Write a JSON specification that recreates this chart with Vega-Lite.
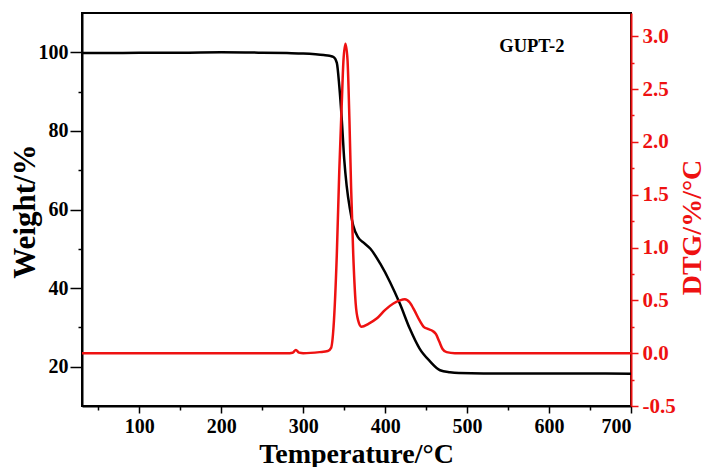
{
  "$schema": "https://vega.github.io/schema/vega-lite/v6.json",
  "width": 549,
  "height": 393,
  "autosize": {"type": "none"},
  "padding": {"left": 82, "top": 13, "right": 77, "bottom": 61},
  "background": "white",
  "config": {
    "view": {"stroke": "black", "strokeWidth": 2},
    "font": "Liberation Serif",
    "axis": {"labelFont": "Liberation Serif", "titleFont": "Liberation Serif", "labelFontWeight": "bold", "titleFontWeight": "bold", "grid": false}
  },
  "datasets": {
    "tg": [
      {"T": 30, "W": 99.8}, {"T": 60, "W": 99.8}, {"T": 100, "W": 99.9}, {"T": 150, "W": 99.9},
      {"T": 200, "W": 100}, {"T": 250, "W": 99.9}, {"T": 280, "W": 99.8}, {"T": 300, "W": 99.7},
      {"T": 315, "W": 99.5}, {"T": 325, "W": 99.3}, {"T": 332, "W": 99.1}, {"T": 337, "W": 98.8},
      {"T": 341, "W": 97.3}, {"T": 344, "W": 91.4}, {"T": 347, "W": 83}, {"T": 350, "W": 72.8},
      {"T": 353, "W": 66}, {"T": 357, "W": 60.1}, {"T": 361, "W": 55.9}, {"T": 367, "W": 52.9},
      {"T": 374, "W": 51.5}, {"T": 382, "W": 50}, {"T": 394, "W": 46.2}, {"T": 406, "W": 41.5},
      {"T": 418, "W": 36}, {"T": 430, "W": 29.7}, {"T": 442, "W": 24.6}, {"T": 455, "W": 21.3},
      {"T": 467, "W": 19.1}, {"T": 479, "W": 18.6}, {"T": 490, "W": 18.4}, {"T": 520, "W": 18.3},
      {"T": 600, "W": 18.3}, {"T": 700, "W": 18.2}
    ],
    "dtg": [
      {"T": 30, "D": 0.0}, {"T": 100, "D": 0.0}, {"T": 200, "D": 0.0}, {"T": 280, "D": 0.0},
      {"T": 287, "D": 0.005}, {"T": 291, "D": 0.03}, {"T": 295, "D": 0.005}, {"T": 300, "D": 0.0},
      {"T": 320, "D": 0.01}, {"T": 330, "D": 0.02}, {"T": 334, "D": 0.05}, {"T": 337, "D": 0.25},
      {"T": 341, "D": 0.94}, {"T": 344, "D": 1.73}, {"T": 347, "D": 2.36}, {"T": 349, "D": 2.76},
      {"T": 351.5, "D": 2.93}, {"T": 354, "D": 2.78}, {"T": 356.4, "D": 2.2}, {"T": 358.4, "D": 1.57},
      {"T": 361, "D": 0.94}, {"T": 364, "D": 0.47}, {"T": 367, "D": 0.31}, {"T": 371, "D": 0.25},
      {"T": 380, "D": 0.28}, {"T": 390, "D": 0.33}, {"T": 400, "D": 0.41}, {"T": 410, "D": 0.47},
      {"T": 418, "D": 0.5}, {"T": 424, "D": 0.51}, {"T": 430, "D": 0.48}, {"T": 436, "D": 0.4},
      {"T": 442, "D": 0.31}, {"T": 447, "D": 0.25}, {"T": 452, "D": 0.23}, {"T": 458, "D": 0.21},
      {"T": 462, "D": 0.18}, {"T": 466, "D": 0.11}, {"T": 470, "D": 0.04}, {"T": 475, "D": 0.01},
      {"T": 485, "D": 0.0}, {"T": 600, "D": 0.0}, {"T": 700, "D": 0.0}
    ],
    "label": [{"T": 579, "W": 101.5, "txt": "GUPT-2"}]
  },
  "layer": [
    {
      "layer": [
        {
          "data": {"name": "tg"},
          "mark": {"type": "line", "color": "black", "strokeWidth": 2.5, "interpolate": "monotone", "clip": true},
          "encoding": {
            "x": {"field": "T", "type": "quantitative", "scale": {"domain": [30, 700], "nice": false, "zero": false},
              "axis": {"orient": "bottom", "title": "Temperature/°C", "titleFontSize": 28, "titleColor": "black",
                "titleX": 274, "titleY": 56, "titleBaseline": "alphabetic", "titleAlign": "center",
                "values": [50, 100, 150, 200, 250, 300, 350, 400, 450, 500, 550, 600, 650, 700],
                "labelExpr": "datum.value % 100 == 0 ? datum.label : ''",
                "labelFontSize": 20, "labelColor": "black", "labelPadding": 3,
                "domainColor": "black", "domainWidth": 2, "tickColor": "black", "tickWidth": 1.5,
                "tickSize": {"condition": {"test": "datum.value % 100 == 0", "value": 7}, "value": 4}}},
            "y": {"field": "W", "type": "quantitative", "scale": {"domain": [10, 110], "nice": false, "zero": false},
              "axis": {"orient": "left", "title": "Weight/%", "titleFontSize": 31, "titleColor": "black",
                "titleX": -57, "titleY": 198, "titleAngle": 270, "titleBaseline": "middle", "titleAlign": "center",
                "values": [20, 30, 40, 50, 60, 70, 80, 90, 100],
                "labelExpr": "datum.value % 20 == 0 ? datum.label : ''",
                "labelFontSize": 20, "labelColor": "black", "labelPadding": 2,
                "domainColor": "black", "domainWidth": 2, "tickColor": "black", "tickWidth": 1.5,
                "tickSize": {"condition": {"test": "datum.value % 20 == 0", "value": 12}, "value": 4}}}
          }
        },
        {
          "data": {"name": "label"},
          "mark": {"type": "text", "font": "Liberation Serif", "fontWeight": "bold", "fontSize": 18.5, "color": "black", "align": "center", "baseline": "middle"},
          "encoding": {
            "x": {"field": "T", "type": "quantitative"},
            "y": {"field": "W", "type": "quantitative"},
            "text": {"field": "txt"}
          }
        }
      ]
    },
    {
      "data": {"name": "dtg"},
      "mark": {"type": "line", "color": "#ee1111", "strokeWidth": 2.5, "interpolate": "monotone", "clip": true},
      "encoding": {
        "x": {"field": "T", "type": "quantitative"},
        "y": {"field": "D", "type": "quantitative", "scale": {"domain": [-0.5, 3.22], "nice": false, "zero": false},
          "axis": {"orient": "right", "title": "DTG/%/°C", "titleFontSize": 28, "titleColor": "#ee1111",
            "titleX": 61, "titleY": 214, "titleAngle": 270, "titleBaseline": "middle", "titleAlign": "center",
            "values": [-0.5, -0.25, 0, 0.25, 0.5, 0.75, 1, 1.25, 1.5, 1.75, 2, 2.25, 2.5, 2.75, 3],
            "labelExpr": "abs(datum.value * 2 - round(datum.value * 2)) < 0.001 ? replace(format(datum.value, '.1f'), '−', '-') : ''",
            "labelFontSize": 21, "labelColor": "#ee1111", "labelPadding": 4,
            "domainColor": "#ee1111", "domainWidth": 2, "tickColor": "#ee1111", "tickWidth": 1.5,
            "tickSize": {"condition": {"test": "abs(datum.value * 2 - round(datum.value * 2)) < 0.001", "value": 7}, "value": 3}}}
      }
    }
  ],
  "resolve": {"scale": {"y": "independent"}}
}
